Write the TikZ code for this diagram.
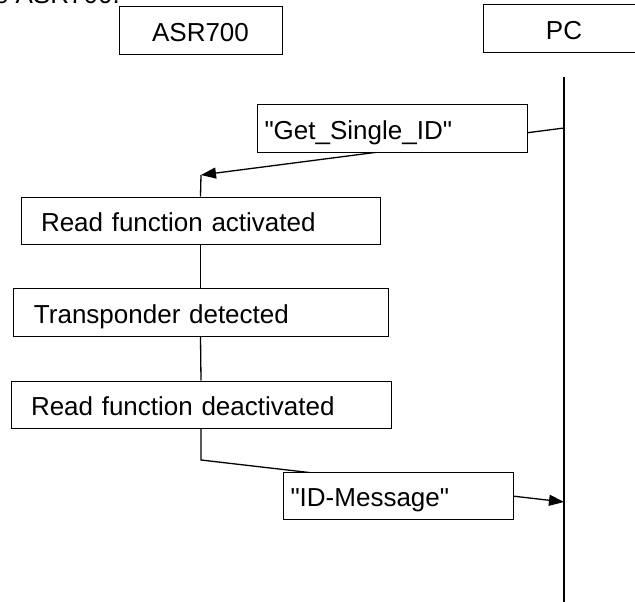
\documentclass[tikz,border=0pt]{standalone}
\usepackage{fontspec}
\setmainfont{Liberation Sans}[Ligatures=TeXOff]
\usetikzlibrary{arrows.meta,backgrounds}
\tikzset{
  box/.style={draw, line width=1pt, fill=white, inner ysep=0pt, minimum height=47pt,
    text height=22pt, text depth=0pt, font=\fontsize{26pt}{30pt}\selectfont},
  lbox/.style={box, align=left},
  conn/.style={line width=1.3pt},
  msg/.style={conn, -{Triangle[length=15pt,width=11pt]}}
}
\begin{document}
\begin{tikzpicture}[x=1pt,y=-1pt]
\useasboundingbox (0,0) rectangle (635,602);
% caption text cut by the top edge, as in the reference
\node[anchor=base east, inner sep=0pt, font=\fontsize{26pt}{30pt}\selectfont] (cap) at (120,4) {the ASR700.};
% lifeline heads
\node[box, minimum width=163pt, minimum height=48pt, inner xsep=0pt] (asr) at (200.5,31) {ASR700};
\node[box, minimum width=162pt, minimum height=48pt, inner xsep=0pt] (pc) at (564,29) {PC};
% coordinates
\coordinate (pctop) at (564,77);
\coordinate (pcbot) at (564,606);
\coordinate (getstart) at (564,128);
\coordinate (getend) at (201,175);
\coordinate (idstart) at (201,460);
\coordinate (idend) at (564,502);
% boxes
\node[lbox, inner xsep=7.5pt, text width=255pt] (get) at (392,128.5) {"Get\_Single\_ID"};
\node[lbox, inner xsep=20pt, text width=319pt] (rfa) at (200.5,220.5) {Read function activated};
\node[lbox, inner xsep=21pt, text width=333pt, minimum height=48pt] (td) at (200.5,312) {Transponder detected};
\node[lbox, inner xsep=20pt, text width=340pt] (rfd) at (201,404.5) {Read function deactivated};
\node[lbox, inner xsep=7.5pt, text width=215pt] (idm) at (398,495.5) {"ID-Message"};
% connectors
\begin{pgfonlayer}{background}
\draw[conn] (pctop) -- (pcbot);
\draw[msg] (getstart) -- (getend);
\draw[msg] (rfd.south) -- (idstart) -- (idend);
\end{pgfonlayer}
\draw[conn] (getend) -- (rfa.north);
\draw[conn] (rfa.south) -- (td.north);
\draw[conn] (td.south) -- (rfd.north);
\end{tikzpicture}
\end{document}
